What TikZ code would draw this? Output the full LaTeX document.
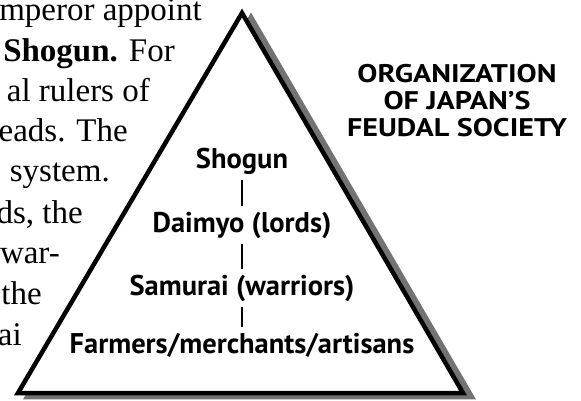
\documentclass[tikz,border=0pt]{standalone}
\usepackage{fontspec}
\setmainfont{Liberation Serif}
\newfontfamily\tierfont{PT Sans}
\newfontfamily\titlefont[FakeStretch=1.18]{PT Sans}
\usetikzlibrary{positioning}

\begin{document}
\begin{tikzpicture}[
x=1pt, y=-1pt,
body/.style={anchor=base east, inner sep=0pt, font=\fontsize{33}{40}\selectfont},
tier/.style={anchor=base, inner sep=3pt, font=\tierfont\bfseries\fontsize{28.5}{32}\selectfont},
title/.style={anchor=base, inner sep=0pt, align=center, font=\titlefont\bfseries\fontsize{25.5}{27}\selectfont},
link/.style={line width=1.6pt, shorten <=2.5pt, shorten >=2.5pt},
pyramid/.style={line width=4.5pt, line join=miter},
shade/.style={line width=4.5pt, line join=miter, draw=black!55, fill=black!55}
]
\useasboundingbox (0,0) rectangle (581,401);

% the column of text beside the pyramid
\begin{scope}
\clip (0,0) rectangle (581,401);
\node[body] (l1) at (202,21) {mperor appoint};
\node[body] (l2) at (175,62) {\textbf{Shogun.} For};
\node[body] (l3) at (150,102) {al rulers of};
\node[body] (l4) at (128,142) {heads. The};
\node[body] (l5) at (110,182) {system.};
\node[body] (l6) at (83,223) {ds, the};
\node[body] (l7) at (60,263) {war-};
\node[body] (l8) at (42,304) {the};
\node[body] (l9) at (22,345) {ai};
\end{scope}

% pyramid with its shadow
\coordinate (top) at (242,13);
\coordinate (left) at (18,393);
\coordinate (right) at (463,393);
\draw[shade] ([shift={(9,4)}]top) -- ([shift={(9,4)}]right) -- ([shift={(9,4)}]left) -- cycle;
\draw[pyramid, fill=white] (top) -- (right) -- (left) -- cycle;

% the tiers
\node[tier] (shogun) at (242,168) {Shogun};
\node[tier] (daimyo) at (242,232) {Daimyo (lords)};
\node[tier] (samurai) at (242,295) {Samurai (warriors)};
\node[tier] (farmers) at (242,353) {Farmers/merchants/artisans};
\draw[link] (shogun) -- (daimyo);
\draw[link] (daimyo) -- (samurai);
\draw[link] (samurai) -- (farmers);

\node[title] (heading) at (457,137) {ORGANIZATION\\OF JAPAN’S\\FEUDAL SOCIETY};
\end{tikzpicture}
\end{document}
